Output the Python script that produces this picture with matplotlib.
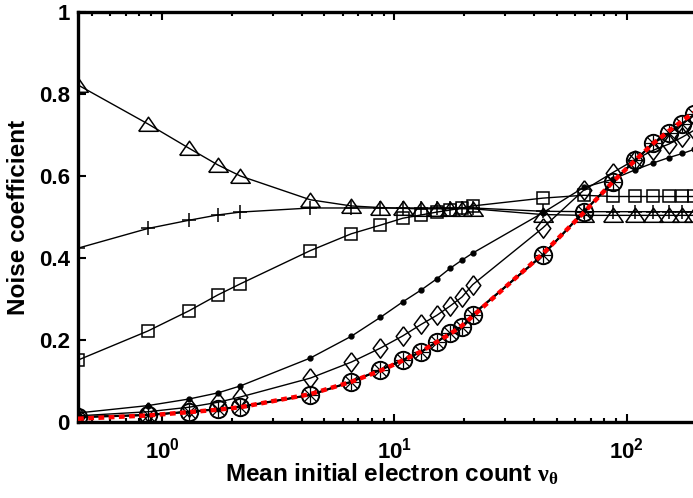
import numpy as np
import matplotlib
matplotlib.use('Agg')
import matplotlib.pyplot as plt
from matplotlib.ticker import LogLocator, NullFormatter, FixedLocator


# mean initial electron count (same grid for all series)
nu = [0.435, 0.87, 1.305, 1.74, 2.175, 4.35, 6.525, 8.7, 10.875, 13.05, 15.225,
      17.4, 19.575, 21.75, 43.5, 65.25, 87.0, 108.75, 130.5, 152.25, 174.0, 195.75]

tri = [0.822, 0.727, 0.668, 0.627, 0.600, 0.542, 0.527, 0.523, 0.521, 0.520, 0.520,
       0.520, 0.520, 0.520, 0.506, 0.504, 0.504, 0.504, 0.504, 0.504, 0.504, 0.504]
plus = [0.424, 0.472, 0.492, 0.505, 0.512, 0.522, 0.522, 0.522, 0.522, 0.522, 0.522,
        0.522, 0.522, 0.522, 0.514, 0.513, 0.513, 0.513, 0.513, 0.513, 0.513, 0.513]
square = [0.151, 0.222, 0.271, 0.310, 0.337, 0.418, 0.459, 0.480, 0.497, 0.505, 0.512,
          0.517, 0.522, 0.527, 0.546, 0.553, 0.550, 0.550, 0.550, 0.550, 0.550, 0.550]
dots = [0.022, 0.040, 0.056, 0.071, 0.088, 0.156, 0.209, 0.255, 0.293, 0.322, 0.349,
        0.375, 0.395, 0.412, 0.510, 0.572, 0.592, 0.615, 0.632, 0.645, 0.655, 0.665]
diamond = [0.015, 0.025, 0.036, 0.048, 0.061, 0.107, 0.146, 0.180, 0.210, 0.238, 0.260,
           0.283, 0.305, 0.335, 0.473, 0.565, 0.608, 0.640, 0.663, 0.678, 0.695, 0.712]
circle = [0.012, 0.017, 0.025, 0.031, 0.037, 0.066, 0.098, 0.127, 0.151, 0.171, 0.195,
          0.217, 0.232, 0.262, 0.407, 0.512, 0.585, 0.638, 0.680, 0.705, 0.728, 0.750]
theory = [0.008, 0.016, 0.024, 0.030, 0.036, 0.068, 0.098, 0.125, 0.150, 0.172, 0.195,
          0.215, 0.235, 0.258, 0.410, 0.510, 0.585, 0.638, 0.680, 0.710, 0.735, 0.755]

yticks = [0, 0.2, 0.4, 0.6, 0.8, 1]
ytick_labels = ['0', '0.2', '0.4', '0.6', '0.8', '1']
xticks = [1, 10, 100]
xtick_labels = [r'$10^{0}$', r'$10^{1}$', r'$10^{2}$']


plt.rcParams['font.family'] = ['Liberation Sans', 'DejaVu Sans']
plt.rcParams['font.weight'] = 'bold'
plt.rcParams['mathtext.fontset'] = 'custom'
plt.rcParams['mathtext.rm'] = 'Liberation Sans:bold'
plt.rcParams['mathtext.it'] = 'Liberation Sans:bold'
plt.rcParams['mathtext.sf'] = 'Liberation Serif'

fig = plt.figure(figsize=(6.93, 4.98), dpi=100)
# axes run a little past the right edge of the figure (the original is cropped)
ax = fig.add_axes([78 / 693, 76 / 498, 627 / 693, 410 / 498])

tri_marker = [(-1, -0.7), (1, -0.7), (0, 0.75), (-1, -0.7)]
dia_marker = [(0, 1), (0.75, 0), (0, -1), (-0.75, 0), (0, 1)]

kw = dict(color='k', lw=1.0, mfc='none', mec='k', mew=1.1)
ax.plot(nu, tri, marker=tri_marker, ms=14, **kw)
ax.plot(nu, plus, marker='+', ms=10, **kw)
ax.plot(nu, square, marker='s', ms=9, **kw)
ax.plot(nu, dots, marker='.', ms=7, color='k', lw=1.0)
ax.plot(nu, diamond, marker=dia_marker, ms=14, **kw)
ax.plot(nu, circle, marker='o', ms=12.5, color='k', lw=1.6, mfc='none', mec='k', mew=1.4)
ax.plot(nu, circle, marker='+', ms=11, color='k', lw=1.0, mew=0.9)
ax.plot(nu, circle, marker='x', ms=8, color='k', lw=1.0, mew=0.9)
ax.plot(nu, theory, color='red', lw=3.2, ls=(0, (1.3, 1.0)), zorder=5)

ax.set_xscale('log')
ax.set_xlim(0.435, 217.5)
ax.set_ylim(0, 1)

ax.xaxis.set_major_locator(FixedLocator(xticks))
ax.set_xticklabels(xtick_labels)
ax.xaxis.set_minor_locator(LogLocator(base=10, subs=np.arange(2, 10)))
ax.xaxis.set_minor_formatter(NullFormatter())
ax.set_yticks(yticks)
ax.set_yticklabels(ytick_labels)

ax.tick_params(which='both', direction='in', top=True, right=True,
               labelsize=16, width=1.5)
ax.tick_params(which='major', length=6)
ax.tick_params(which='minor', length=3)
ax.tick_params(axis='x', pad=11)
ax.tick_params(axis='y', pad=6)
for sp in ax.spines.values():
    sp.set_linewidth(2.4)

ax.set_xlabel(r'Mean initial electron count $\mathsf{\nu_{\theta}}$',
              fontsize=17.5, fontweight='bold', labelpad=-1)
ax.set_ylabel('Noise coefficient', fontsize=17.5, fontweight='bold', labelpad=6)

fig.savefig('out.png', dpi=100)
